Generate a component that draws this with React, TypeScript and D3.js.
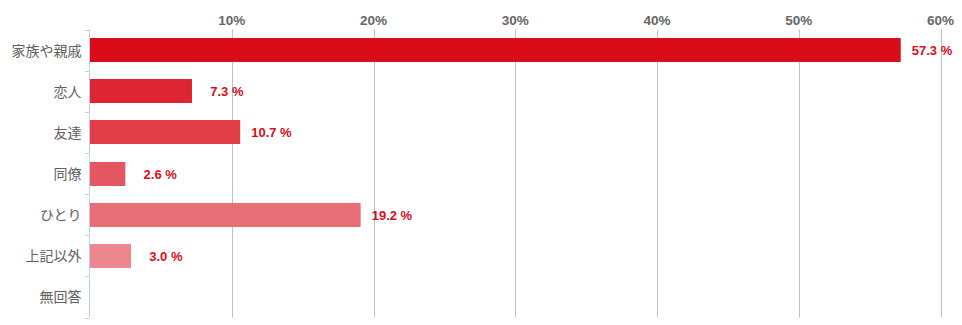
import React from "react";
import * as d3 from "d3";

const categories = ["家族や親戚", "恋人", "友達", "同僚", "ひとり", "上記以外", "無回答"];
const values: (number | null)[] = [57.3, 7.3, 10.7, 2.6, 19.2, 3.0, null];
const barColors = ["#D90D1A", "#DE2633", "#E13E4A", "#E45660", "#E86E76", "#EB878D", "#EEA0A5"];
const tickValues = [10, 20, 30, 40, 50, 60];

const W = 962;
const H = 325;
const left = 90;
const right = 940.5;
const top = 29.5;
const bottom = 317.5;

const font = "'Liberation Sans', Arial, Helvetica, 'Noto Sans CJK JP', sans-serif";
const jpFont = "'Noto Sans CJK JP', 'Liberation Sans', sans-serif";

export default function App() {
  const x = d3.scaleLinear().domain([0, 60]).range([left, right]);
  const y = d3.scaleBand<string>().domain(categories).range([top, bottom]).paddingInner(0).paddingOuter(0);
  const barH = 24;
  const bw = y.bandwidth();
  const tickYs = d3.range(categories.length + 1).map((i) => top + i * bw);

  return (
    <svg
      width={W}
      height={H}
      style={{ position: "absolute", left: 0, top: 0, background: "#fff" }}
    >
      {tickValues.map((t) => (
        <g key={t}>
          <line
            x1={Math.round(x(t)) + 0.5}
            x2={Math.round(x(t)) + 0.5}
            y1={top}
            y2={bottom}
            stroke="#C0C0C0"
            strokeWidth={1}
          />
          <text
            x={x(t)}
            y={25}
            textAnchor="middle"
            fontFamily={font}
            fontSize={13.5}
            fontWeight="bold"
            fill="#666666"
          >
            {t}%
          </text>
        </g>
      ))}
      {categories.map((c, i) => {
        const v = values[i];
        const cy = (y(c) as number) + bw / 2;
        return (
          <g key={c}>
            {v !== null && (
              <rect
                x={x(0) - 1}
                y={Math.round(cy - barH / 2)}
                width={x(v) - x(0) - 0.5}
                height={barH}
                fill={barColors[i]}
              />
            )}
            {v !== null && (
              <text
                x={x(v) + 50}
                y={cy + 5}
                textAnchor="end"
                fontFamily={font}
                fontSize={13}
                fontWeight="bold"
                fill="#D90D1A"
              >
                {v.toFixed(1)} %
              </text>
            )}
            <text
              x={81.5}
              y={cy + 5.5}
              textAnchor="end"
              fontFamily={jpFont}
              fontSize={14}
              fill="#606060"
            >
              {c}
            </text>
          </g>
        );
      })}
      <line x1={89.5} x2={89.5} y1={top} y2={bottom} stroke="#C0D0E0" strokeWidth={1} />
      {tickYs.map((ty, i) => (
        <line key={i} x1={85} x2={89.5} y1={Math.round(ty) + 0.5} y2={Math.round(ty) + 0.5} stroke="#C0D0E0" strokeWidth={1} />
      ))}
    </svg>
  );
}
